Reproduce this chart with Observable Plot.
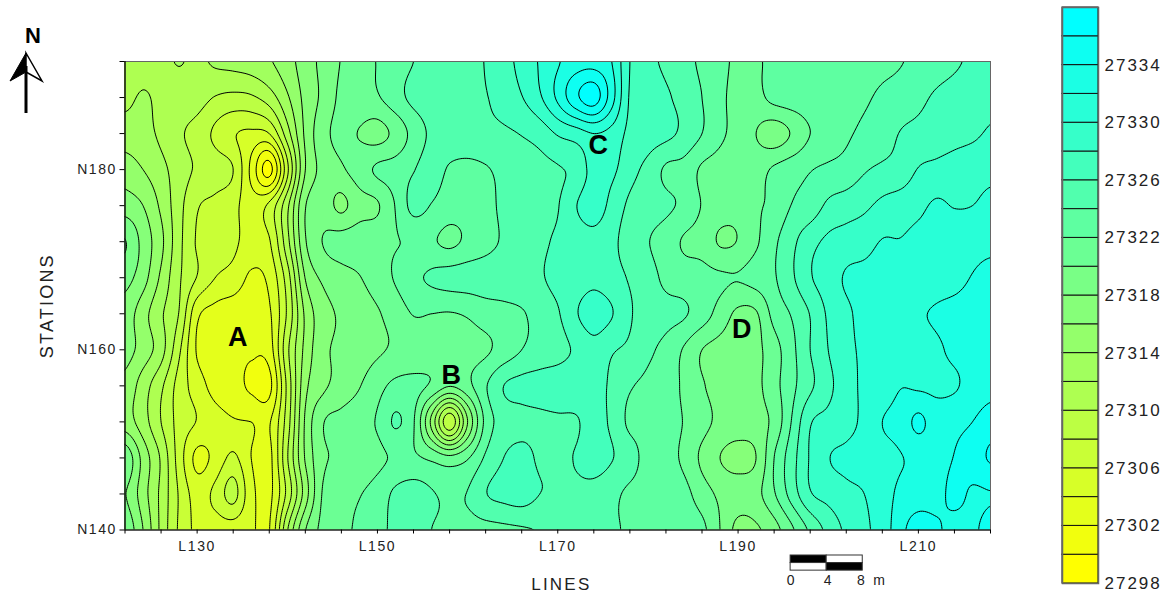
<!DOCTYPE html>
<html><head><meta charset="utf-8">
<script src="https://cdn.jsdelivr.net/npm/d3@7"></script>
<script src="https://cdn.jsdelivr.net/npm/@observablehq/plot@0.6"></script>
<style>
html,body{margin:0;padding:0;background:#fff}
#wrap{position:relative;width:1174px;height:600px;overflow:hidden;font-family:"Liberation Sans",Arial,sans-serif}
#wrap>*{position:absolute}
#wrap svg text{letter-spacing:1.6px}
</style></head><body><div id="wrap"></div>
<script>
// Magnetic field above 27300 nT, one row per station, lines L122..L218 in steps of 2
const base = 27300;
const n192 = [11,11.2,11.5,12.1,11.6, 12.3,12.6,13,13.8,15.2, 17,18.6,20.1,21.1,22.1, 23.1,24,24.5,24.9,25.3, 26.1,27.3,28.6,30.2,31.8, 33,33.2,32,28,26.6, 25.6,24.7,23.6,22.6,21.6, 21.8,22.4,22.6,22.8,23, 23.2,23.4,23.6,23.9,24.5, 25.1,25.7,26.4,27];
const n188 = [11.5,12.2,11.5,11,10.8, 9.9,9.5,9.7,11,13.7, 16.6,18.5,20.5,21.2,21.8, 23.2,24.5,25,25.3,25.6, 25.9,26.8,27.9,29.7,32.4, 35.5,37,32.8,27.8,27.2, 26.3,25.3,24,22.5,21.3, 21.4,22.6,23,23.2,23.4, 23.6,23.8,24.3,24.8,25.5, 26.3,26.8,27.2,27.6];
const n184 = [13,12.7,11.6,10.3,9.3, 7.6,6.2,5.6,6,11.1, 16.4,19.3,20.6,19.9,19.3, 20.6,22.7,24.4,25,25.2, 25.5,25.7,26.1,26.8,28.2, 29,30,29.3,27.5,27, 26.5,25.5,24,22.4,21.3, 20,19,20.2,22,22.8, 23.7,24.4,24.9,26.1,26.6, 27,27.4,27.7,28.2];
const n180 = [15,14,12.6,11,9.7, 9,8,3.5,-0.7,7.5, 16,18.6,19.7,21,22.3, 22.8,23.9,24.8,23.8,23.5, 23.8,24.6,25,25.4,25.8, 26.6,28.7,28.4,26.7,25.4, 23.7,23.3,21.7,21.2,21, 21.2,22.3,23.2,23.9,24.4, 24.8,25.8,26.4,26.8,28.1, 28.5,28.8,29.1,29.4];
const n176 = [17,16,13.6,10.7,8.2, 7.5,6.6,5,6.5,11.5, 17.9,18.8,17.6,19.2,19.8, 22.1,24.6,23.9,23,22.8, 23.1,24.6,25.1,25.4,25.9, 27.9,29,27.4,25.6,25, 24.4,23.5,21.9,21,20.7, 21.7,22.5,24.1,24.8,26.4, 27,27.6,28.5,29,29.5, 30.3,29.9,30,30.6];
const n172 = [20.1,17.3,14.5,10.6,7.8, 7.2,6.5,5,5.8,11.3, 17.8,20.1,20.8,21.1,21.4, 21.9,22.2,22.2,21.6,22.4, 23.2,24.3,25,25.6,26.3, 26.9,27.3,26.5,25,24.1, 23,21.8,21.3,19.8,20.1, 21.7,23.6,25.5,27.3,28.4, 28.9,29.3,30.1,30.1,30.6, 31,31.2,31.3,31.5];
const n168 = [18.7,16.8,13.6,10.3,7.9, 6,5.2,3.7,4.5,9, 16.1,18.4,19.2,19.9,21, 22.2,23.5,24.3,24.7,24.9, 25.1,25.3,25.6,25.8,26.6, 27,27.5,26.8,25.8,24.9, 23.5,23,22.7,22.3,22.1, 22.8,23.8,25.7,27.8,29, 30.2,30.5,30.7,30.9,31, 31.2,31.4,32.1,32.6];
const n164 = [17.1,14.8,12.3,9.9,4.5, 3.3,2.9,2.8,3.7,8.3, 14.4,17.2,18.3,19,19.8, 20.9,22.1,22,21.9,22.2, 22.9,23.3,23.8,24.8,25.8, 27.8,28.9,28.1,26.2,25.2, 24.6,24.2,23,21.2,19.6, 19.8,22.7,24.2,26.1,28.3, 29.6,30.6,31,31.4,31.8, 32.2,32.6,32.9,33.2];
const n160 = [16.8,15.1,12.8,8.4,3.8, 3,2.8,2.3,3,9.5, 14.6,17.5,18.4,19,19.7, 20.3,20.7,20.9,21.1,21.3, 21.7,22.8,24,24.8,25.3, 26.3,27.3,26.2,25.6,24.4, 23.4,21.8,20,19.3,19, 19.5,21.2,23.5,26,28, 29.5,30.3,30.7,31,31.3, 31.7,32.4,32.8,33.2];
const n156 = [15.4,13,10.4,7.2,5, 3.3,2.9,1.6,1.4,8.5, 15.4,17.6,18.8,19.9,21.3, 22.5,22.6,21.7,20.1,21.4, 23.8,26,26.6,26.8,27, 27.1,26.9,25.6,24.2,23.6, 23.2,21.6,20.2,19.3,19, 19.5,21.3,23.5,25.6,27.5, 29.1,30.4,30.8,31.9,31.7, 31.6,31.8,32.7,33.3];
const n152 = [15,12.9,10,7.3,5.9, 4.8,4.2,4,3.8,9, 16.3,19.9,20.6,21.2,22.2, 24.2,22.2,15.5,8.6,16, 22.6,24.8,25.3,25.5,25.7, 25.8,26.8,25.6,23.6,23.4, 23,21.9,20.7,19.5,19, 19.2,20.6,24.2,27.8,28.6, 29.3,30.5,32,32.8,34.4, 33,33.4,34,35];
const n148 = [19.5,15.3,11.7,7.1,3.5, 4.6,6.4,4,3.4,9.8, 16.2,19.6,20.3,20.8,21.5, 22.3,22.3,21.6,20.6,21.8, 24.3,26,26.7,25.7,25.7, 26.1,27,26.1,24.9,23.2, 22.7,21.6,19.6,18,17.3, 18,22,25.2,28.2,29.9, 30.4,30.8,31.2,31.9,32.4, 32.9,34.1,35,36.2];
const n144 = [18.1,14.9,11.5,7.8,5.2, 6.5,8.7,4.6,3.5,8.6, 15,20.3,21.4,21.9,22.8, 24.4,25,24.2,23.5,24.1, 25.9,26.6,27,26,25.8, 25.6,25.2,24.5,23.6,23.2, 23,22.6,21,19.6,19, 19.4,21.8,24.9,27.8,28.7, 29.5,30,31.1,32.4,32.8, 33.2,34.6,33.7,33.9];
const n140 = [19.5,16,11.5,7.7,5.5, 5.1,5,4.3,3.9,11.8, 17.9,20.6,21.6,22.3,23.3, 24.5,24.8,24,23.5,23.3, 23.4,23.6,23.8,24.1,24.5, 24.7,24.6,24.2,23.8,23.5, 23.3,23,22.5,20,17.4, 17.7,19.2,21.7,24.4,26.6, 28.4,29.6,30.9,33.3,35.2, 34.4,33.2,33.6,34.8];

const rows = [n192,n188,n184,n180,n176,n172,n168,n164,n160,n156,n152,n148,n144,n140];
rows.forEach((r,i)=>{ if(r.length!==49) throw new Error("row "+i+" has "+r.length); });

const levels = [27298,27300,27302,27304,27306,27308,27310,27312,27314,27316,27318,27320,27322,27324,27326,27328,27330,27332,27334,27336];
const legendLabels = [27298,27302,27306,27310,27314,27318,27322,27326,27330,27334];
const lineTicks = [122,126,130,134,138,142,146,150,154,158,162,166,170,174,178,182,186,190,194,198,202,206,210,214,218];
const lineLabels = [130,150,170,190,210];
const stationTicks = [140,144,148,152,156,160,164,168,172,176,180,184,188,192];
const stationLabels = [140,160,180];
const anomalies = [
  {name:"A", line:134.5, station:161.4},
  {name:"B", line:158.2, station:157.2},
  {name:"C", line:174.5, station:182.7},
  {name:"D", line:190.4, station:162.3}
];
const scaleCells = [
  {from:0,to:4,row:0,fill:"black"},{from:4,to:8,row:0,fill:"white"},
  {from:0,to:4,row:1,fill:"white"},{from:4,to:8,row:1,fill:"black"}
];
const scaleLabels = [{t:"0",at:0,s:134.4},{t:"4",at:4.1,s:134.4},{t:"8",at:7.8,s:134.4},{t:"m",at:9.8,s:134.4}];

const color = {type:"linear", domain:[27298,27336], range:["#ffff00","#00ffff"], interpolate:"rgb"};
const font = '"Liberation Sans",Arial,sans-serif';
const scaleX = 195.83, scaleTop = 137.17, scaleRow = 0.84;

// Smooth reading of the read-off grid between its nodes, so contour lines curve as in the map
const cr = (a,b,c,d,t) => b + 0.5*t*(c-a + t*(2*a-5*b+4*c-d + t*(3*(b-c)+d-a)));
const nr = rows.length, nc = rows[0].length;
const at = (r,c) => rows[Math.max(0,Math.min(nr-1,r))][Math.max(0,Math.min(nc-1,c))];
function field(x,y){
  const u = Math.max(0,Math.min(nc-1,(x-122)/2)), v = Math.max(0,Math.min(nr-1,(192-y)/4));
  const c = Math.min(nc-2,Math.floor(u)), r = Math.min(nr-2,Math.floor(v));
  const tu = u-c, tv = v-r, row = [];
  for (let k=-1;k<=2;k++) row.push(cr(at(r+k,c-1),at(r+k,c),at(r+k,c+1),at(r+k,c+2),tu));
  return base + cr(row[0],row[1],row[2],row[3],tv);
}

const map = Plot.plot({
  width:1174, height:600,
  marginLeft:124.5, marginRight:184, marginTop:61, marginBottom:70.5,
  style:{fontFamily:font, background:"none", overflow:"visible"},
  x:{domain:[122,218], label:null},
  y:{domain:[140,192], label:null},
  color,
  marks:[
    Plot.contour({
      value:field, pixelSize:2,
      x1:121, x2:219, y1:193.5, y2:138.5,
      thresholds:levels, fill:"value", stroke:"black", strokeWidth:1, clip:true, smooth:true, blur:0
    }),
    Plot.frame({stroke:"#666", strokeWidth:1}),
    Plot.ruleX([122],{stroke:"black", strokeWidth:1.2}),
    Plot.ruleY([140],{stroke:"black", strokeWidth:1.2}),
    Plot.axisX({ticks:lineTicks, tickSize:4, tickPadding:200, tickFormat:()=>"", stroke:"black", label:null}),
    Plot.axisY({ticks:stationTicks, tickSize:5, tickPadding:200, tickFormat:()=>"", stroke:"black", label:null}),
    Plot.axisX({ticks:lineLabels, tickSize:0, tickPadding:11, tickFormat:d=>"L"+d, fontSize:14, fill:"#222", label:null}),
    Plot.axisY({ticks:stationLabels, tickSize:0, tickPadding:8, tickFormat:d=>"N"+d, fontSize:14, fill:"#222", label:null}),
    Plot.text(anomalies,{x:"line", y:"station", text:"name", fontSize:27, fontWeight:"bold", fill:"black"}),
    Plot.text(["LINES"],{x:[170.4], y:[133.9], text:d=>d, fontSize:17, fill:"#222"}),
    Plot.text(["STATIONS"],{x:[113.4], y:[164.9], text:d=>d, fontSize:18, fill:"#222", rotate:-90}),
    Plot.rect(scaleCells,{
      x1:d=>scaleX+d.from, x2:d=>scaleX+d.to,
      y1:d=>scaleTop-d.row*scaleRow, y2:d=>scaleTop-(d.row+1)*scaleRow,
      fill:d=>d.fill, stroke:"#333", strokeWidth:1
    }),
    Plot.text(scaleLabels,{x:d=>scaleX+d.at, y:"s", text:"t", fontSize:14, fill:"#222"})
  ]
});
document.getElementById("wrap").append(map);
map.style.left="0"; map.style.top="0";

const bar = Plot.plot({
  width:124, height:600,
  marginLeft:12, marginRight:76, marginTop:7, marginBottom:17,
  style:{fontFamily:font, background:"none", overflow:"visible"},
  x:{domain:[0,1], axis:null, label:null},
  y:{domain:[27298,27338], axis:null, label:null},
  color,
  marks:[
    Plot.rect(levels,{x1:()=>0, x2:()=>1, y1:d=>d, y2:d=>d+2, fill:d=>d, stroke:"#111", strokeWidth:1}),
    Plot.frame({stroke:"#666", strokeWidth:1.5}),
    Plot.axisY({anchor:"right", ticks:legendLabels, tickSize:0, tickPadding:6, tickFormat:d=>String(d), fontSize:17, fill:"#222", label:null})
  ]
});
document.getElementById("wrap").append(bar);
bar.style.left="1050px"; bar.style.top="0";

// letter spacing by text kind
map.querySelectorAll("text").forEach(t=>{
  const s=t.textContent;
  if(/^[ABCD]$/.test(s)) t.style.letterSpacing="0";
  if(s==="LINES"||s==="STATIONS") t.style.letterSpacing="2.2px";
  if(/^[048m]$/.test(s)) t.style.letterSpacing="0";
});
bar.querySelectorAll("text").forEach(t=>t.style.letterSpacing="2px");

const ns="http://www.w3.org/2000/svg";
const north=document.createElementNS(ns,"svg");
north.setAttribute("width","60");north.setAttribute("height","120");north.style.left="0";north.style.top="0";
north.innerHTML=`<text x="33" y="43" text-anchor="middle" font-family='${font}' font-weight="bold" font-size="22" style="letter-spacing:0">N</text>
<path d="M26 53L10 81L26 72Z" fill="black" stroke="black"/>
<path d="M26 53L42 81L26 72Z" fill="white" stroke="black" stroke-width="1.5"/>
<path d="M26 66V113" stroke="black" stroke-width="3"/>`;
document.getElementById("wrap").append(north);
</script></body></html>
